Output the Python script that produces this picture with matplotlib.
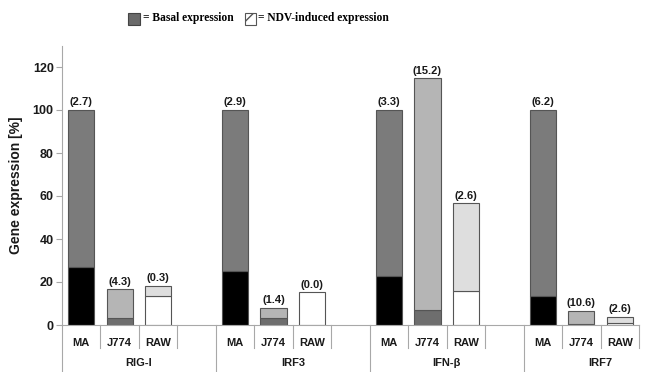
import matplotlib
matplotlib.use("Agg")
import matplotlib.pyplot as plt
from matplotlib.patches import Rectangle
import matplotlib.transforms as mtransforms

plt.rcParams['font.family'] = ['Liberation Sans', 'DejaVu Sans']

# data
genes = ["RIG-I", "IRF3", "IFN-\u03b2", "IRF7"]
cells = ["MA", "J774", "RAW"]
basal = [27.0, 3.1, 13.5,
         25.3, 3.1, 15.2,
         22.8, 7.0, 15.8,
         13.6, 0.5, 1.1]
induced = [73.0, 13.5, 4.6,
           74.7, 4.7, 0.0,
           77.2, 107.7, 40.8,
           86.4, 6.0, 2.5]
fold = ["(2.7)", "(4.3)", "(0.3)",
        "(2.9)", "(1.4)", "(0.0)",
        "(3.3)", "(15.2)", "(2.6)",
        "(6.2)", "(10.6)", "(2.6)"]

# colours per cell line: (basal, induced)
cell_colors = {"MA": ("#000000", "#7b7b7b"),
               "J774": ("#6e6e6e", "#b5b5b5"),
               "RAW": ("#ffffff", "#dedede")}
line_col = "#a8a8a8"
txt_col = "#1a1a1a"

fig = plt.figure(figsize=(6.49, 3.72), dpi=100)
ax = fig.add_axes([62 / 649, 1 - 325 / 372, (639 - 62) / 649, 279.5 / 372])

for g in range(len(genes)):
    for c, cell in enumerate(cells):
        i = g * len(cells) + c
        x = g * 4 + c
        bcol, icol = cell_colors[cell]
        ax.bar(x, basal[i], width=0.68, color=bcol, edgecolor="#555555", linewidth=0.8)
        if induced[i] > 0:
            ax.bar(x, induced[i], bottom=basal[i], width=0.68, color=icol,
                   edgecolor="#555555", linewidth=0.8)
        ax.annotate(fold[i], (x, basal[i] + induced[i]), xytext=(0, 2),
                    textcoords="offset points", ha="center", va="bottom",
                    fontsize=8, fontweight="bold", color=txt_col)

ax.set_xlim(-0.5, 14.5)
ax.set_ylim(0, 130)
ax.set_yticks(range(0, 121, 20))
ax.tick_params(axis="y", direction="out", length=4, width=0.8, color=line_col,
               labelsize=9, pad=2, labelcolor=txt_col)
for lab in ax.get_yticklabels():
    lab.set_fontweight("bold")
ax.set_xticks([])
ax.spines["top"].set_visible(False)
ax.spines["right"].set_visible(False)
ax.spines["left"].set_color(line_col)
ax.spines["bottom"].set_color(line_col)
ax.set_ylabel("Gene expression [%]", fontsize=10, fontweight="bold", labelpad=7,
              color=txt_col)

# category table below the axis
trans = mtransforms.blended_transform_factory(ax.transData, ax.transAxes)
row1 = -0.082
bottom = -0.17
for g in range(len(genes)):
    for c, cell in enumerate(cells):
        x = g * 4 + c
        ax.text(x, -0.063, cell, transform=trans, ha="center", va="center",
                fontsize=8, fontweight="bold", color=txt_col)
    n_slots = 4 if g < len(genes) - 1 else 3
    left = g * 4 - 0.5
    right = left + n_slots
    ax.text(left + 2.0, -0.137, genes[g], transform=trans, ha="center",
            va="center", fontsize=8, fontweight="bold", color=txt_col)
    ax.plot([left, left], [0, bottom], transform=trans, color=line_col,
            lw=0.8, clip_on=False)
    for k in range(1, n_slots + 1):
        if k < n_slots or g == len(genes) - 1:
            ax.plot([left + k, left + k], [0, row1], transform=trans,
                    color=line_col, lw=0.8, clip_on=False)

# legend on top
fig.patches.append(Rectangle((128 / 649, 1 - 25 / 372), 12 / 649, 12 / 372,
                             transform=fig.transFigure, facecolor="#6a6a6a",
                             edgecolor="#444444", lw=0.8))
fig.patches.append(Rectangle((245 / 649, 1 - 25 / 372), 11 / 649, 12 / 372,
                             transform=fig.transFigure, facecolor="white",
                             edgecolor="#555555", hatch="//", lw=0.8))
fig.text(143 / 649, 1 - 18.5 / 372, "= Basal expression", family="Liberation Serif",
         fontweight="bold", fontsize=8.3, va="center", ha="left", color="black")
fig.text(258 / 649, 1 - 18.5 / 372, "= NDV-induced expression", family="Liberation Serif",
         fontweight="bold", fontsize=8.3, va="center", ha="left", color="black")

fig.savefig("out.png", dpi=100)
